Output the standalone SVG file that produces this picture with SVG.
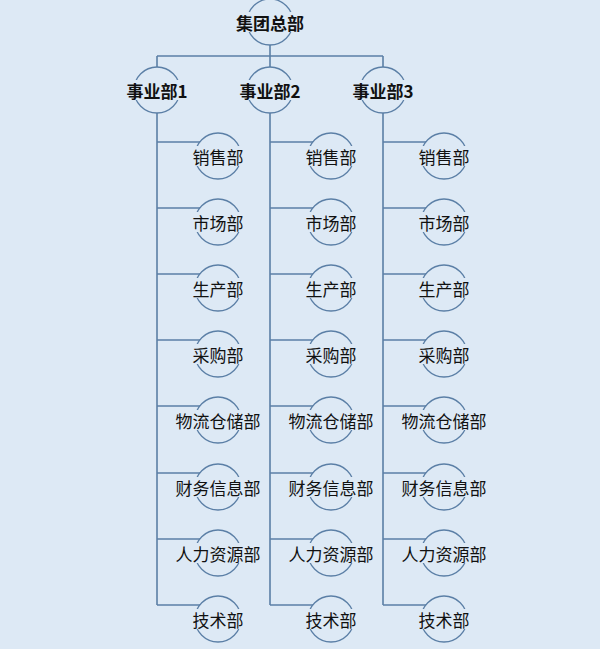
<svg xmlns="http://www.w3.org/2000/svg" width="600" height="649" viewBox="0 0 600 649">
<style>
.c{fill:none;stroke:#5b7fa6;stroke-width:1.3}
.l{fill:none;stroke:#5b7fa6;stroke-width:1.6}
.m{fill:#dde9f5}
text{font-family:"Noto Sans CJK SC","Liberation Sans",sans-serif;font-size:17px;text-anchor:middle;dominant-baseline:central;fill:#111}
.b{font-weight:bold}
</style>
<rect width="600" height="649" fill="#dde9f5"/>
<g id="connectors">
<path class="l" d="M270 45V56M157 56H383M157 56V67M270 56V67M383 56V67"/>
<path class="l" d="M157 113V605M270 113V605M383 113V605"/>
<path class="l" d="M157 142H200M157 208H200M157 274H200M157 340H200M157 406H200M157 473H200M157 539H200M157 605H200"/>
<path class="l" d="M270 142H313M270 208H313M270 274H313M270 340H313M270 406H313M270 473H313M270 539H313M270 605H313"/>
<path class="l" d="M383 142H426M383 208H426M383 274H426M383 340H426M383 406H426M383 473H426M383 539H426M383 605H426"/>
</g>
<g id="hq"><circle class="c" cx="270" cy="22" r="23"/><rect class="m" x="234" y="12" width="72" height="20"/><text class="b" x="270" y="22">集团总部</text></g>
<g id="d1"><circle class="c" cx="157" cy="90" r="23"/><rect class="m" x="121" y="80" width="72" height="20"/><text class="b" x="157" y="90">事业部1</text></g>
<g id="d2"><circle class="c" cx="270" cy="90" r="23"/><rect class="m" x="234" y="80" width="72" height="20"/><text class="b" x="270" y="90">事业部2</text></g>
<g id="d3"><circle class="c" cx="383" cy="90" r="23"/><rect class="m" x="347" y="80" width="72" height="20"/><text class="b" x="383" y="90">事业部3</text></g>
<defs>
<g id="col">
<circle class="c" cx="0" cy="156" r="23"/><rect class="m" x="-27" y="146" width="54" height="20"/><text x="0" y="156">销售部</text>
<circle class="c" cx="0" cy="222" r="23"/><rect class="m" x="-27" y="212" width="54" height="20"/><text x="0" y="222">市场部</text>
<circle class="c" cx="0" cy="288" r="23"/><rect class="m" x="-27" y="278" width="54" height="20"/><text x="0" y="288">生产部</text>
<circle class="c" cx="0" cy="354" r="23"/><rect class="m" x="-27" y="344" width="54" height="20"/><text x="0" y="354">采购部</text>
<circle class="c" cx="0" cy="420" r="23"/><rect class="m" x="-44" y="410" width="88" height="20"/><text x="0" y="420">物流仓储部</text>
<circle class="c" cx="0" cy="487" r="23"/><rect class="m" x="-44" y="477" width="88" height="20"/><text x="0" y="487">财务信息部</text>
<circle class="c" cx="0" cy="553" r="23"/><rect class="m" x="-44" y="543" width="88" height="20"/><text x="0" y="553">人力资源部</text>
<circle class="c" cx="0" cy="619" r="23"/><rect class="m" x="-27" y="609" width="54" height="20"/><text x="0" y="619">技术部</text>
</g>
</defs>
<g id="units1"><use href="#col" x="218"/></g>
<g id="units2"><use href="#col" x="331"/></g>
<g id="units3"><use href="#col" x="444"/></g>
</svg>
